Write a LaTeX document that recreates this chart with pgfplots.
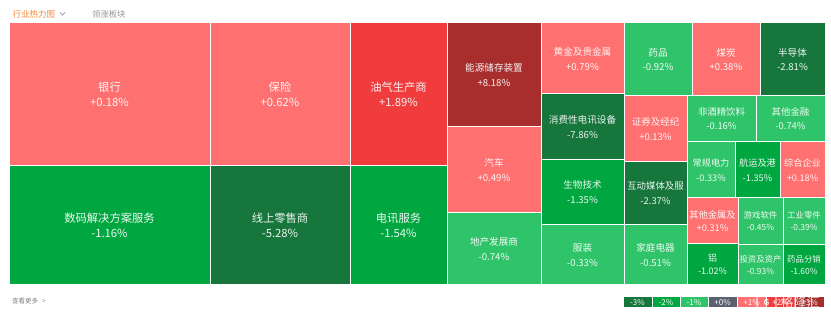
\documentclass[border=0pt]{standalone}
\usepackage{fontspec}
\setmainfont{Noto Sans CJK SC}
\usepackage{pgfplots}
\pgfplotsset{compat=1.18}
\definecolor{LR}{RGB}{255,112,112}
\definecolor{MR}{RGB}{240,60,60}
\definecolor{DR}{RGB}{168,46,46}
\definecolor{LG}{RGB}{48,196,106}
\definecolor{MG}{RGB}{0,166,64}
\definecolor{DG}{RGB}{22,118,60}
\definecolor{GR}{RGB}{90,98,112}
\definecolor{OR}{RGB}{245,130,50}
\newcommand{\lab}[5]{\node[text=white,text opacity=0.92,align=center,inner sep=0pt,font=\fontsize{#3}{#4}\selectfont] at (axis cs:#1,#2) {#5};}
\begin{document}
\begin{tikzpicture}
\begin{axis}[x=1pt,y=1pt,y dir=reverse,xmin=0,xmax=831,ymin=0,ymax=315,
  hide axis,clip=false,scale only axis,
  every axis plot/.append style={draw=white,line width=1pt,mark=none}]
% treemap cells: x1,y1 x2,y1 x2,y2 x1,y2
\addplot[fill=LR] coordinates {(9,23) (210,23) (210,166) (9,166)} -- cycle;
\addplot[fill=LR] coordinates {(210,23) (350,23) (350,166) (210,166)} -- cycle;
\addplot[fill=MR] coordinates {(350,23) (447,23) (447,166) (350,166)} -- cycle;
\addplot[fill=MG] coordinates {(9,166) (210,166) (210,285) (9,285)} -- cycle;
\addplot[fill=DG] coordinates {(210,166) (350,166) (350,285) (210,285)} -- cycle;
\addplot[fill=MG] coordinates {(350,166) (447,166) (447,285) (350,285)} -- cycle;
\addplot[fill=DR] coordinates {(447,23) (541,23) (541,127) (447,127)} -- cycle;
\addplot[fill=LR] coordinates {(447,127) (541,127) (541,213) (447,213)} -- cycle;
\addplot[fill=LG] coordinates {(447,213) (541,213) (541,285) (447,285)} -- cycle;
\addplot[fill=LR] coordinates {(541,23) (624,23) (624,94) (541,94)} -- cycle;
\addplot[fill=DG] coordinates {(541,94) (624,94) (624,160) (541,160)} -- cycle;
\addplot[fill=MG] coordinates {(541,160) (624,160) (624,225) (541,225)} -- cycle;
\addplot[fill=LG] coordinates {(541,225) (624,225) (624,285) (541,285)} -- cycle;
\addplot[fill=LG] coordinates {(624,23) (692,23) (692,96) (624,96)} -- cycle;
\addplot[fill=LR] coordinates {(692,23) (760,23) (760,96) (692,96)} -- cycle;
\addplot[fill=DG] coordinates {(760,23) (825,23) (825,96) (760,96)} -- cycle;
\addplot[fill=LR] coordinates {(624,96) (687,96) (687,162) (624,162)} -- cycle;
\addplot[fill=DG] coordinates {(624,162) (687,162) (687,225) (624,225)} -- cycle;
\addplot[fill=LG] coordinates {(624,225) (687,225) (687,285) (624,285)} -- cycle;
\addplot[fill=LG] coordinates {(687,96) (756,96) (756,142) (687,142)} -- cycle;
\addplot[fill=LG] coordinates {(756,96) (825,96) (825,142) (756,142)} -- cycle;
\addplot[fill=LG] coordinates {(687,142) (735,142) (735,198) (687,198)} -- cycle;
\addplot[fill=MG] coordinates {(735,142) (780,142) (780,198) (735,198)} -- cycle;
\addplot[fill=LR] coordinates {(780,142) (825,142) (825,198) (780,198)} -- cycle;
\addplot[fill=LR] coordinates {(687,198) (738,198) (738,244) (687,244)} -- cycle;
\addplot[fill=MG] coordinates {(687,244) (738,244) (738,285) (687,285)} -- cycle;
\addplot[fill=LG] coordinates {(738,198) (783,198) (783,245) (738,245)} -- cycle;
\addplot[fill=LG] coordinates {(738,245) (783,245) (783,285) (738,285)} -- cycle;
\addplot[fill=LG] coordinates {(783,198) (825,198) (825,245) (783,245)} -- cycle;
\addplot[fill=MG] coordinates {(783,245) (825,245) (825,285) (783,285)} -- cycle;
% legend
\addplot[fill=DG] coordinates {(623,297) (652,297) (652,308) (623,308)} -- cycle;
\addplot[fill=MG] coordinates {(652,297) (680,297) (680,308) (652,308)} -- cycle;
\addplot[fill=LG] coordinates {(680,297) (708,297) (708,308) (680,308)} -- cycle;
\addplot[fill=GR] coordinates {(708,297) (737,297) (737,308) (708,308)} -- cycle;
\addplot[fill=LR] coordinates {(737,297) (766,297) (766,308) (737,308)} -- cycle;
\addplot[fill=MR] coordinates {(766,297) (795,297) (795,308) (766,308)} -- cycle;
\addplot[fill=DR] coordinates {(795,297) (824,297) (824,308) (795,308)} -- cycle;
% labels
\lab{109.5}{94.5}{11.3}{15}{银行\\+0.18\%}
\lab{280}{94.5}{11.3}{15}{保险\\+0.62\%}
\lab{398.5}{94.5}{11.3}{15}{油气生产商\\+1.89\%}
\lab{109.5}{225.5}{11.3}{15}{数码解决方案服务\\-1.16\%}
\lab{280}{225.5}{11.3}{15}{线上零售商\\-5.28\%}
\lab{398.5}{225.5}{11.3}{15}{电讯服务\\-1.54\%}
\lab{494}{75}{9.6}{15}{能源储存装置\\+8.18\%}
\lab{494}{170}{9.6}{15}{汽车\\+0.49\%}
\lab{494}{249}{9.6}{15}{地产发展商\\-0.74\%}
\lab{582.5}{58.5}{9.6}{15}{黄金及贵金属\\+0.79\%}
\lab{582.5}{127}{9.6}{15}{消费性电讯设备\\-7.86\%}
\lab{582.5}{192.5}{9.6}{15}{生物技术\\-1.35\%}
\lab{582.5}{255}{9.6}{15}{服装\\-0.33\%}
\lab{658}{59.5}{9.6}{14}{药品\\-0.92\%}
\lab{726}{59.5}{9.6}{14}{煤炭\\+0.38\%}
\lab{792.5}{59.5}{9.6}{14}{半导体\\-2.81\%}
\lab{655.5}{129}{9.5}{15}{证券及经纪\\+0.13\%}
\lab{655.5}{193.5}{9.4}{15}{互动媒体及服\\-2.37\%}
\lab{655.5}{255}{9.6}{15}{家庭电器\\-0.51\%}
\lab{721.5}{119}{9.4}{14}{非酒精饮料\\-0.16\%}
\lab{790.5}{119}{9.4}{14}{其他金融\\-0.74\%}
\lab{711}{170}{9.2}{14.5}{常规电力\\-0.33\%}
\lab{757.5}{170}{9.2}{14.5}{航运及港\\-1.35\%}
\lab{802.5}{170}{9.2}{14.5}{综合企业\\+0.18\%}
\lab{712.5}{221}{9.3}{13}{其他金属及\\+0.31\%}
\lab{712.5}{264.5}{9}{13}{铝\\-1.02\%}
\lab{760.5}{221.5}{8.4}{12}{游戏软件\\-0.45\%}
\lab{760.5}{265}{8.4}{12}{投资及资产\\-0.93\%}
\lab{804}{221.5}{8.4}{12}{工业零件\\-0.39\%}
\lab{804}{265}{8.4}{12}{药品分销\\-1.60\%}
% legend labels
\node[text=white,font=\fontsize{8}{8}\selectfont] at (axis cs:637.5,302.5) {-3\%};
\node[text=white,font=\fontsize{8}{8}\selectfont] at (axis cs:666,302.5) {-2\%};
\node[text=white,font=\fontsize{8}{8}\selectfont] at (axis cs:694,302.5) {-1\%};
\node[text=white,font=\fontsize{8}{8}\selectfont] at (axis cs:722.5,302.5) {+0\%};
\node[text=white,font=\fontsize{8}{8}\selectfont] at (axis cs:751.5,302.5) {+1\%};
\node[text=white,font=\fontsize{8}{8}\selectfont] at (axis cs:780.5,302.5) {+2\%};
\node[text=white,font=\fontsize{8}{8}\selectfont] at (axis cs:809.5,302.5) {+3\%};
% watermark
\draw[white,opacity=0.75,line width=1.2pt,rounded corners=3pt] (axis cs:757,294) rectangle (axis cs:776,311);
\node[text=white,opacity=0.8,font=\fontsize{8}{8}\selectfont\bfseries] at (axis cs:766.5,302.5) {G};
\node[text=white,opacity=0.8,font=\fontsize{13}{13}\selectfont] at (axis cs:800,302.5) {格隆汇};
% header
\node[anchor=west,text=OR,font=\fontsize{8.5}{8.5}\selectfont,inner sep=0pt] at (axis cs:12.5,14) {行业热力图};
\draw[gray!70,line width=0.8pt] (axis cs:60,12.5) -- (axis cs:62.5,15) -- (axis cs:65,12.5);
\node[anchor=west,text=gray!85,font=\fontsize{8.3}{8.3}\selectfont,inner sep=0pt] at (axis cs:92,14) {领涨板块};
\node[anchor=west,text=gray,font=\fontsize{6.5}{6.5}\selectfont,inner sep=0pt] at (axis cs:12,301) {查看更多\hspace{4pt}>};
\end{axis}
\path (current axis.south west) rectangle (current axis.north east);
\end{tikzpicture}
\end{document}
